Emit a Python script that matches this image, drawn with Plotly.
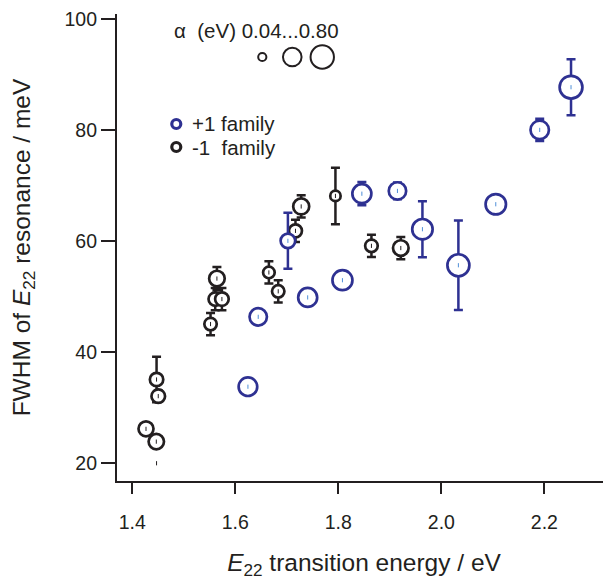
import plotly.graph_objects as go

# ---------------- data ----------------
# +1 family (blue)
plus_E = [1.6245, 1.6445, 1.7021, 1.7405, 1.8080, 1.8457, 1.9148, 1.9633, 2.0331, 2.1057, 2.1910, 2.2518]
plus_W = [33.7, 46.3, 60.0, 49.8, 52.9, 68.5, 69.0, 62.1, 55.6, 66.6, 80.0, 87.7]
plus_err = [1.0, 1.0, 5.05, 1.0, 1.0, 2.1, 1.5, 5.05, 8.06, 1.0, 2.0, 5.05]
plus_alpha = [0.59, 0.53, 0.39, 0.61, 0.66, 0.61, 0.53, 0.68, 0.76, 0.68, 0.58, 0.80]

# -1 family (black)
minus_E = [1.4266, 1.4466, 1.4471, 1.4504, 1.4471, 1.5519, 1.5643, 1.5610, 1.5740,
           1.6652, 1.6833, 1.7168, 1.7279, 1.7944, 1.8643, 1.9213]
minus_W = [26.1, 23.8, 35.0, 32.0, 19.9, 45.0, 53.2, 49.5, 49.5,
           54.3, 50.9, 61.8, 66.2, 68.1, 59.1, 58.7]
minus_err = [1.0, 1.0, 4.1, 1.0, 0.0, 2.0, 2.1, 2.0, 2.0,
             2.0, 2.0, 2.0, 2.0, 5.1, 2.0, 2.0]
minus_alpha = [0.41, 0.43, 0.33, 0.34, 0.0, 0.28, 0.44, 0.33, 0.34,
               0.24, 0.28, 0.31, 0.46, 0.18, 0.29, 0.44]

x_ticks = [1.4, 1.6, 1.8, 2.0, 2.2]
x_ticktext = ["1.4", "1.6", "1.8", "2.0", "2.2"]
y_ticks = [20, 40, 60, 80, 100]
y_ticktext = ["20", "40", "60", "80", "100"]

size_legend_alpha = [0.04, 0.56, 0.80]

# ---------------- styling ----------------
BLUE = "#2e3192"
BLACK = "#231f20"
FONT = "Liberation Sans, Arial, Helvetica, sans-serif"
LW = 2.7


def alpha_to_size(a):
    # marker diameter (px) scaled from alpha
    return 6.8 + 20.0 * a


fig = go.Figure()


def add_family(E, W, err, alpha, color, dotcolor, name):
    keep = [i for i, a in enumerate(alpha) if a > 0]
    fig.add_trace(go.Scatter(
        x=[E[i] for i in keep], y=[W[i] for i in keep], mode="markers", name=name,
        showlegend=False,
        marker=dict(symbol="circle", size=[alpha_to_size(alpha[i]) for i in keep],
                    color="white", opacity=1,
                    line=dict(color=color, width=LW)),
        error_y=dict(type="data", array=[err[i] for i in keep], symmetric=True,
                     color=color, thickness=2.5, width=4.5),
        hoverinfo="x+y",
    ))
    # small centre marks (also the only mark for points with alpha = 0)
    fig.add_trace(go.Scatter(
        x=E, y=W, mode="markers", showlegend=False, hoverinfo="skip",
        marker=dict(symbol="line-ns", size=3, color=dotcolor, opacity=1,
                    line=dict(color=dotcolor, width=1)),
    ))


add_family(minus_E, minus_W, minus_err, minus_alpha, BLACK, BLACK, "-1 family")
add_family(plus_E, plus_W, plus_err, plus_alpha, BLUE, "#4f8fd8", "+1 family")

# ---------------- legends drawn on an overlay (paper-like) axis ----------------
leg_x = [0.2941, 0.3548, 0.4155]
fig.add_trace(go.Scatter(
    x=leg_x, y=[0.9079] * 3, xaxis="x2", yaxis="y2", mode="markers",
    showlegend=False, hoverinfo="skip",
    marker=dict(symbol="circle-open", size=[alpha_to_size(a) + 0.6 for a in size_legend_alpha],
                color=BLACK, opacity=1, line=dict(width=2.0)),
))
fig.add_trace(go.Scatter(
    x=[0.12, 0.12], y=[0.7645, 0.7152], xaxis="x2", yaxis="y2", mode="markers",
    showlegend=False, hoverinfo="skip",
    marker=dict(symbol="circle-open", size=9, color=[BLUE, BLACK], opacity=1,
                line=dict(width=3.2)),
))

annotations = [
    dict(text="\u03b1\u00a0\u00a0(eV) 0.04...0.80", x=0.1119, y=0.9657, xref="x2 domain", yref="y2 domain",
         xanchor="left", yanchor="middle", showarrow=False, font=dict(size=20.5, color=BLACK, family=FONT)),
    dict(text="+1 family", x=0.1484, y=0.7645, xref="x2 domain", yref="y2 domain",
         xanchor="left", yanchor="middle", showarrow=False, font=dict(size=20.5, color=BLACK, family=FONT)),
    dict(text="-1\u00a0\u00a0family", x=0.1484, y=0.7152, xref="x2 domain", yref="y2 domain",
         xanchor="left", yanchor="middle", showarrow=False, font=dict(size=20.5, color=BLACK, family=FONT)),
]

axis_common = dict(
    showline=True, linecolor=BLACK, linewidth=2.2, ticks="outside", tickcolor=BLACK,
    tickwidth=2.2, showgrid=False, zeroline=False, ticklabeloverflow="allow",
    tickfont=dict(size=19.5, color=BLACK, family=FONT),
)

# the page body has an 8 px margin, so the figure is 8 px smaller and margins shifted
fig.update_layout(
    width=603, height=576, autosize=False,
    margin=dict(l=109, r=0, t=6, b=103, pad=0),
    paper_bgcolor="white", plot_bgcolor="white",
    font=dict(family=FONT, color=BLACK),
    xaxis=dict(range=[1.3703, 2.3294], tickvals=x_ticks, ticktext=x_ticktext,
               ticklen=11, ticklabelstandoff=11,
               title=dict(text="<i>E</i><sub>22</sub> transition energy / eV",
                          font=dict(size=24.5, color=BLACK, family=FONT), standoff=22),
               **axis_common),
    yaxis=dict(range=[16.7, 100.9], tickvals=y_ticks, ticktext=y_ticktext,
               ticklen=14,
               title=dict(text="FWHM of <i>E</i><sub>22</sub> resonance / meV",
                          font=dict(size=24.5, color=BLACK, family=FONT), standoff=35),
               **axis_common),
    xaxis2=dict(overlaying="x", anchor="y2", range=[0, 1], visible=False),
    yaxis2=dict(overlaying="y", anchor="x2", range=[0, 1], visible=False),
    annotations=annotations,
    showlegend=False,
)

fig.write_html("out.html")
